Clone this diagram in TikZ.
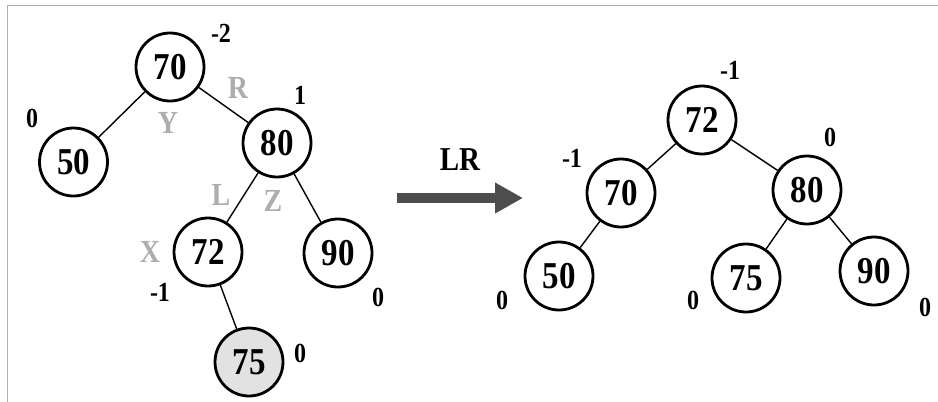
\documentclass[tikz,border=0pt]{standalone}
\usepackage{fontspec}
\setmainfont{Liberation Serif}
\usetikzlibrary{arrows.meta}
\definecolor{lblgray}{HTML}{ADADAD}
\definecolor{arrgray}{HTML}{4D4D4D}
\definecolor{fillgray}{HTML}{E2E2E2}
\definecolor{framegray}{HTML}{B0B0B0}
\newcommand{\tallt}[1]{\scalebox{1}[1.15]{#1}}
\begin{document}
\begin{tikzpicture}[x=1pt,y=-1pt,
  nd/.style={circle,draw,line width=2.8pt,minimum size=68pt,inner sep=0pt,
    font=\fontsize{33}{33}\selectfont\bfseries},
  bal/.style={font=\fontsize{24}{24}\selectfont\bfseries,inner sep=0pt},
  gl/.style={font=\fontsize{28}{28}\selectfont\bfseries,text=lblgray,inner sep=0pt},
  edge/.style={line width=1.4pt}]
\useasboundingbox (0,0) rectangle (938,402);
\draw[framegray,line width=1.5pt] (7.5,402) -- (7.5,5.5) -- (938,5.5);

% left tree
\node[nd] (a70) at (170,67) {\tallt{70}};
\node[nd] (a50) at (73.5,162) {\tallt{50}};
\node[nd] (a80) at (277,143) {\tallt{80}};
\node[nd] (a72) at (208,252) {\tallt{72}};
\node[nd] (a90) at (338,253) {\tallt{90}};
\node[nd,fill=fillgray] (a75) at (249,362) {\tallt{75}};
\draw[edge] (a70) -- (a50);
\draw[edge] (a70) -- (a80);
\draw[edge] (a80) -- (a72);
\draw[edge] (a80) -- (a90);
\draw[edge] (a72) -- (a75);

\node[bal] (b1) at (221,33) {\tallt{-2}};
\node[bal] (b2) at (32,118) {\tallt{0}};
\node[bal] (b3) at (300,95) {\tallt{1}};
\node[bal] (b4) at (160,292) {\tallt{-1}};
\node[bal] (b5) at (378,297) {\tallt{0}};
\node[bal] (b6) at (300,353) {\tallt{0}};

\node[gl] (gR) at (238,88) {\tallt{R}};
\node[gl] (gY) at (168,123) {\tallt{Y}};
\node[gl] (gL) at (221,195) {\tallt{L}};
\node[gl] (gZ) at (273,201) {\tallt{Z}};
\node[gl] (gX) at (150,252) {\tallt{X}};

% arrow
\coordinate (as) at (397,198);
\coordinate (ae) at (523,198);
\draw[arrgray,line width=10pt,-{Triangle[length=28pt,width=29pt]}] (as) -- (ae);
\node[font=\fontsize{29}{29}\selectfont\bfseries,inner sep=0pt] (lr) at (460,160) {\tallt{LR}};

% right tree
\node[nd] (c72) at (702,120) {\tallt{72}};
\node[nd] (c70) at (621,193) {\tallt{70}};
\node[nd] (c80) at (807,190) {\tallt{80}};
\node[nd] (c50) at (559,276) {\tallt{50}};
\node[nd] (c75) at (746,278) {\tallt{75}};
\node[nd] (c90) at (874,271) {\tallt{90}};
\draw[edge] (c72) -- (c70);
\draw[edge] (c72) -- (c80);
\draw[edge] (c70) -- (c50);
\draw[edge] (c80) -- (c75);
\draw[edge] (c80) -- (c90);

\node[bal] (d1) at (730,70) {\tallt{-1}};
\node[bal] (d2) at (572,158) {\tallt{-1}};
\node[bal] (d3) at (830,137) {\tallt{0}};
\node[bal] (d4) at (502,300) {\tallt{0}};
\node[bal] (d5) at (693,300) {\tallt{0}};
\node[bal] (d6) at (925,307) {\tallt{0}};
\end{tikzpicture}
\end{document}
